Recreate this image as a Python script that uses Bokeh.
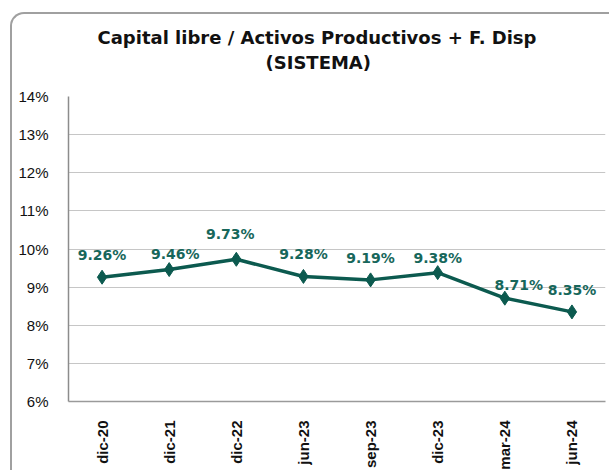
from bokeh.plotting import figure
from bokeh.models import ColumnDataSource, FactorRange, Range1d, FixedTicker, CustomJSTickFormatter, Title
from bokeh.core.properties import value
from bokeh.embed import file_html
from bokeh.resources import INLINE
import math

categories = ["dic-20", "dic-21", "dic-22", "jun-23", "sep-23", "dic-23", "mar-24", "jun-24"]
values = [9.26, 9.46, 9.73, 9.28, 9.19, 9.38, 8.71, 8.35]
value_labels = ["9.26%", "9.46%", "9.73%", "9.28%", "9.19%", "9.38%", "8.71%", "8.35%"]
y_ticks = [6, 7, 8, 9, 10, 11, 12, 13, 14]
title_line1 = "Capital libre / Activos Productivos + F. Disp"
title_line2 = "(SISTEMA)"

# label placement (styling, pixels)
label_dx = [0, 6, -6, 0, 0, 0, 14, 0]
label_dy = [-22, -16, -25, -22, -22, -15, -13, -22]

LINE = "#0c5a4f"
TXT = "#17675b"

src = ColumnDataSource(dict(cat=categories, val=values, lab=value_labels, dx=label_dx, dy=label_dy))

p = figure(width=599, height=458, x_range=FactorRange(*categories), y_range=Range1d(6, 14),
           output_backend="svg", toolbar_location=None,
           min_border_left=56, min_border_right=6, min_border_top=82, min_border_bottom=61)
p.outline_line_color = None
p.background_fill_color = "white"
p.border_fill_alpha = 0
p.styles = {"margin-left": "10px", "margin-top": "12px",
            "border-left": "2px solid #a0a0a0", "border-top": "2px solid #a0a0a0",
            "border-top-left-radius": "14px"}

p.title = Title(text=title_line1, align="left", offset=29, standoff=-43,
                text_font="DejaVu Sans", text_font_style="bold", text_font_size="18px",
                text_color="#111111")
p.add_layout(Title(text=title_line2, align="left", offset=197, standoff=47,
                   text_font="DejaVu Sans", text_font_style="bold", text_font_size="18px",
                   text_color="#111111"), "above")

p.xgrid.grid_line_color = None
p.ygrid.grid_line_color = "#c6c6c6"
p.ygrid.grid_line_width = 1
p.yaxis.ticker = FixedTicker(ticks=y_ticks)
p.yaxis.formatter = CustomJSTickFormatter(code="return tick.toFixed(0) + '%';")
p.yaxis.axis_line_color = "#8c8c8c"
p.yaxis.axis_line_width = 1.5
p.yaxis.major_tick_line_color = None
p.yaxis.minor_tick_line_color = None
p.yaxis.major_label_text_font = "Liberation Sans"
p.yaxis.major_label_text_font_size = "15px"
p.yaxis.major_label_text_color = "#111111"
p.yaxis.major_label_standoff = 14

p.xaxis.axis_line_color = "#9a9a9a"
p.xaxis.axis_line_width = 1.5
p.xaxis.major_tick_line_color = None
p.xaxis.minor_tick_line_color = None
p.xaxis.major_label_orientation = math.pi / 2
p.xaxis.major_label_text_font = "Liberation Sans"
p.xaxis.major_label_text_font_style = "bold"
p.xaxis.major_label_text_font_size = "15px"
p.xaxis.major_label_text_color = "#111111"
p.xaxis.major_label_standoff = 13
p.x_range.range_padding = 0

p.line("cat", "val", source=src, line_color=LINE, line_width=3.5)
p.scatter("cat", "val", source=src, marker="diamond", size=14, fill_color=LINE, line_color=LINE)
p.text("cat", "val", text="lab", source=src, x_offset="dx", y_offset="dy",
       text_font=value("DejaVu Sans"), text_font_style="bold", text_font_size="14px",
       text_color=TXT, text_align="center", text_baseline="middle")

open("out.html", "w").write(file_html(p, INLINE))
